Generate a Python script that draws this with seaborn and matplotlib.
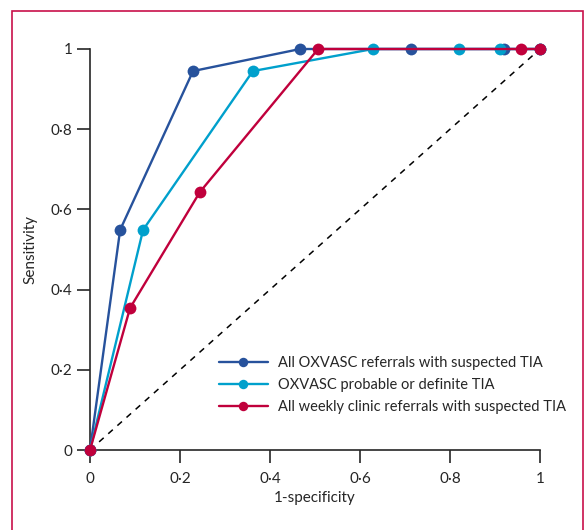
import matplotlib
matplotlib.use("Agg")
import matplotlib.pyplot as plt
import matplotlib.ticker as mticker
from matplotlib.patches import Rectangle
import seaborn as sns
import pandas as pd

sns.set_style("ticks")
plt.rcParams["font.family"] = ["Lato", "DejaVu Sans"]

# ROC-Punkte
oxvasc_all_x = [0, 0.067, 0.229, 0.467, 0.713, 0.920, 1.0]
oxvasc_all_y = [0, 0.549, 0.945, 1.0, 1.0, 1.0, 1.0]
oxvasc_tia_x = [0, 0.118, 0.362, 0.629, 0.820, 0.911, 1.0]
oxvasc_tia_y = [0, 0.549, 0.945, 1.0, 1.0, 1.0, 1.0]
clinic_x = [0, 0.089, 0.244, 0.507, 0.957, 1.0]
clinic_y = [0, 0.354, 0.643, 1.0, 1.0, 1.0]

labels = [
    "All OXVASC referrals with suspected TIA",
    "OXVASC probable or definite TIA",
    "All weekly clinic referrals with suspected TIA",
]
COLORS = ["#27529c", "#00a0cc", "#c0003c"]
series = [(oxvasc_all_x, oxvasc_all_y), (oxvasc_tia_x, oxvasc_tia_y), (clinic_x, clinic_y)]

fig = plt.figure(figsize=(5.87, 5.30), dpi=100)
ax = fig.add_axes([90 / 587, 80 / 530, 450 / 587, 401 / 530])

# Rahmen um die Abbildung
fig.patches.append(Rectangle((12 / 587, -0.05), 571 / 587, 1.05 - 11 / 530,
                             transform=fig.transFigure, fill=False,
                             edgecolor="#c8104a", linewidth=1.2))

ax.plot([0, 1], [0, 1], color="black", linestyle=(0, (4, 4)), linewidth=1.1, zorder=1)

for (xs, ys), lab, col in zip(series, labels, COLORS):
    df = pd.DataFrame({"x": xs, "y": ys})
    sns.lineplot(data=df, x="x", y="y", sort=False, ax=ax, color=col, linewidth=1.7,
                 marker="o", markersize=8.5, markeredgewidth=0, label=lab, zorder=3)

ax.set_xlim(0, 1)
ax.set_ylim(0, 1)
for s in ["top", "right"]:
    ax.spines[s].set_visible(False)
ax.spines["left"].set_linewidth(1.2)
ax.spines["bottom"].set_linewidth(1.2)
for line in ax.lines:
    line.set_clip_on(False)


def tick_fmt(v, _):
    v = round(v, 2)
    if v == 0:
        return "0"
    if v == 1:
        return "1"
    return f"{v:.1f}".replace(".", "·")


ax.xaxis.set_major_locator(mticker.MultipleLocator(0.2))
ax.yaxis.set_major_locator(mticker.MultipleLocator(0.2))
ax.xaxis.set_major_formatter(mticker.FuncFormatter(tick_fmt))
ax.yaxis.set_major_formatter(mticker.FuncFormatter(tick_fmt))
ax.tick_params(direction="out", length=9.5, width=1.2, labelsize=11, pad=3)
ax.tick_params(axis="x", pad=6)

ax.set_xlabel("1-specificity", fontsize=11, labelpad=4)
ax.set_ylabel("Sensitivity", fontsize=11, labelpad=10)

ax.legend(loc="lower right", bbox_to_anchor=(1.088, 0.056), frameon=False, fontsize=10.5,
          handlelength=3.4, handletextpad=0.7, labelspacing=0.57, markerscale=0.8)

plt.savefig("out.png", dpi=100)
plt.close()
